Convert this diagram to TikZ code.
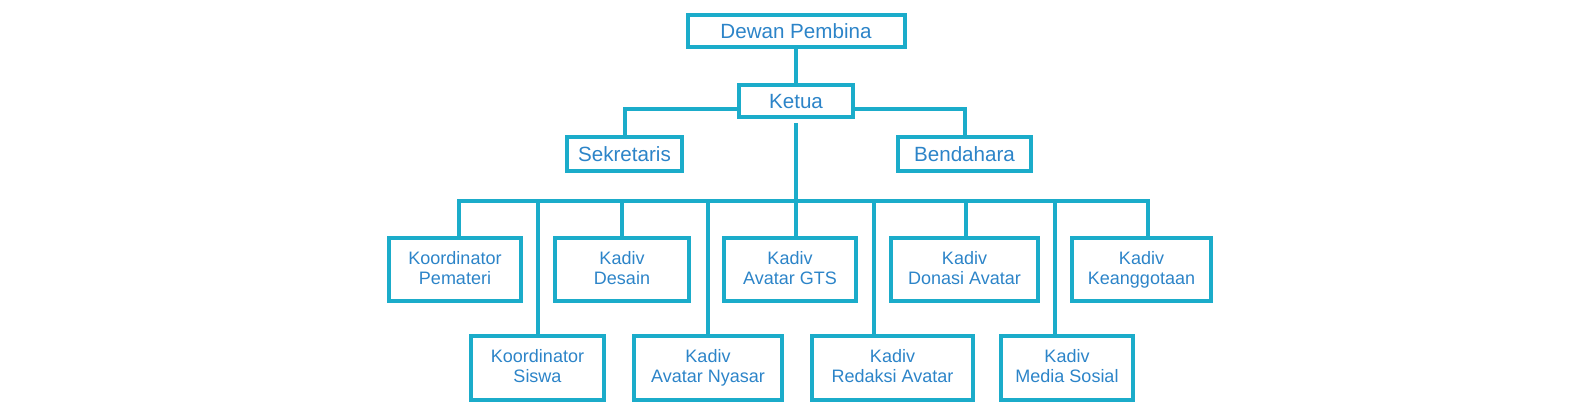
\documentclass[tikz,border=0pt]{standalone}
\usepackage{fontspec}
\setmainfont{Liberation Sans}
\definecolor{boxline}{RGB}{27,172,202}
\definecolor{boxtext}{RGB}{44,132,200}

\begin{document}
\begin{tikzpicture}
[
x=0.5pt,y=-0.5pt,
unit/.style 2 args={draw=boxline,line width=2pt,inner sep=0pt,
            minimum width=#1pt,minimum height=#2pt,
            text=boxtext,font=\fontsize{9}{10}\selectfont,align=center,
            execute at begin node={\rule{0pt}{0.94em}},
            execute at end node={\vphantom{g}}},
head/.style={font=\fontsize{10.3}{12}\selectfont},
conn/.style={draw=boxline,line width=2pt},
]
\useasboundingbox (0,0) rectangle (1596,419);

%Place the nodes
\node[unit={108.5}{16},head] (dewan) at (796,31) {Dewan Pembina};
\node[unit={57}{16},head] (ketua) at (796,101) {Ketua};
\node[unit={57.5}{17},head] (sek) at (624.5,154) {Sekretaris};
\node[unit={66.5}{17},head] (bend) at (964.5,154) {Bendahara};
%first row
\node[unit={66}{31.5}] (kp) at (455,269.5) {Koordinator\\Pemateri};
\node[unit={67}{31.5}] (kd) at (622,269.5) {Kadiv\\Desain};
\node[unit={66}{31.5}] (kg) at (790,269.5) {Kadiv\\Avatar GTS};
\node[unit={73.5}{31.5}] (ko) at (964.5,269.5) {Kadiv\\Donasi Avatar};
\node[unit={69.5}{31.5}] (kk) at (1141.5,269.5) {Kadiv\\Keanggotaan};
%second row
\node[unit={66.5}{32}] (ks) at (537.5,368) {Koordinator\\Siswa};
\node[unit={74}{32}] (kn) at (708,368) {Kadiv\\Avatar Nyasar};
\node[unit={80.5}{32}] (kr) at (892.5,368) {Kadiv\\Redaksi Avatar};
\node[unit={66}{32}] (km) at (1067,368) {Kadiv\\Media Sosial};

%Draw the connections
\draw[conn] (dewan) -- (ketua);
\draw[conn] ([yshift=-4pt]ketua.west) -| (sek.north);
\draw[conn] ([yshift=-4pt]ketua.east) -| (bend.north);
\coordinate (bus) at (796,201);
\draw[conn] ([yshift=-2pt]ketua.south) -- (bus);
\foreach \n/\x in {kp/459,ks/538,kd/622,kn/708,kg/796,kr/874,ko/966,km/1055,kk/1148}
{
  \coordinate (bus-\n) at (\x,201);
  \draw[conn] (bus-\n) -- (bus-\n |- \n.north);
}
\draw[conn,line cap=rect] (bus-kp) -- (bus-kk);
\end{tikzpicture}
\end{document}
